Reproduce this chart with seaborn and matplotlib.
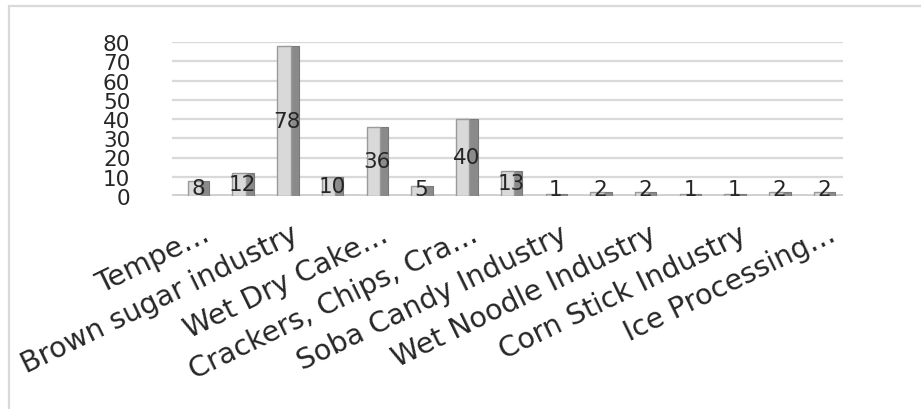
import numpy as np
import pandas as pd
import matplotlib.pyplot as plt
import matplotlib.transforms as mtransforms
import seaborn as sns
from matplotlib.patches import Rectangle

# -------------------------------
# Data
# -------------------------------
values = [8, 12, 78, 10, 36, 5, 40, 13, 1, 2, 2, 1, 1, 2, 2]
positions = list(range(len(values)))
# only every other category label is visible on the original chart
tick_positions = [0, 2, 4, 6, 8, 10, 12, 14]
tick_labels = ["Tempe\u2026", "Brown sugar industry", "Wet Dry Cake\u2026",
               "Crackers, Chips, Cra\u2026", "Soba Candy Industry",
               "Wet Noodle Industry", "Corn Stick Industry", "Ice Processing\u2026"]
y_ticks = [0, 10, 20, 30, 40, 50, 60, 70, 80]

df = pd.DataFrame({"pos": positions, "value": values})

# -------------------------------
# Plot
# -------------------------------
sns.set_style("white")
plt.rcParams['font.family'] = ['DejaVu Sans']

fig = plt.figure(figsize=(9.21, 4.10), dpi=100)
ax = fig.add_axes([172 / 921, (410 - 197) / 410, (843 - 172) / 921, (197 - 43) / 410])

# gridlines
for t in y_ticks:
    ax.axhline(t, color="#d9d9d9", lw=1.6, zorder=0)
ax.axhline(0, color="#d0d0d0", lw=3.5, zorder=0)

# dark side of the pseudo-3D bars
ax.bar(np.array(positions) + 0.18, values, width=0.3, color="#8a8a8a",
       edgecolor="#7a7a7a", lw=0.8, zorder=2)
# front faces
sns.barplot(data=df, x="pos", y="value", ax=ax, width=0.3, color="#d9d9d9",
            saturation=1, edgecolor="#9a9a9a", linewidth=1.0, zorder=3)

# data labels
for p, v in zip(positions, values):
    ax.text(p + 0.08, max(v / 2, 3.6), str(v), ha="center", va="center",
            fontsize=15.5, color="#262626", zorder=5)

ax.set_xlim(-0.5, 14.5)
ax.set_ylim(0, 80)
ax.set_yticks(y_ticks)
ax.set_yticklabels([str(t) for t in y_ticks], fontsize=15.5, color="#262626")
ax.tick_params(axis="y", length=0, pad=30)

ax.set_xticks(tick_positions)
ax.set_xticklabels(tick_labels, rotation=26, ha="right", rotation_mode="anchor",
                   fontsize=20.5, color="#262626")
ax.tick_params(axis="x", length=0, pad=17)
shift = mtransforms.ScaledTranslation(0.07, 0, fig.dpi_scale_trans)
for lbl in ax.get_xticklabels():
    lbl.set_transform(lbl.get_transform() + shift)
ax.set_xlabel("")
ax.set_ylabel("")
sns.despine(ax=ax, left=True, bottom=True)

# chart border
fig.patches.append(Rectangle((9 / 921, -0.1), 1.1, (410 - 7) / 410 + 0.1,
                             transform=fig.transFigure, fill=False,
                             edgecolor="#d9d9d9", lw=1.6))

fig.savefig("out.png", dpi=100)
